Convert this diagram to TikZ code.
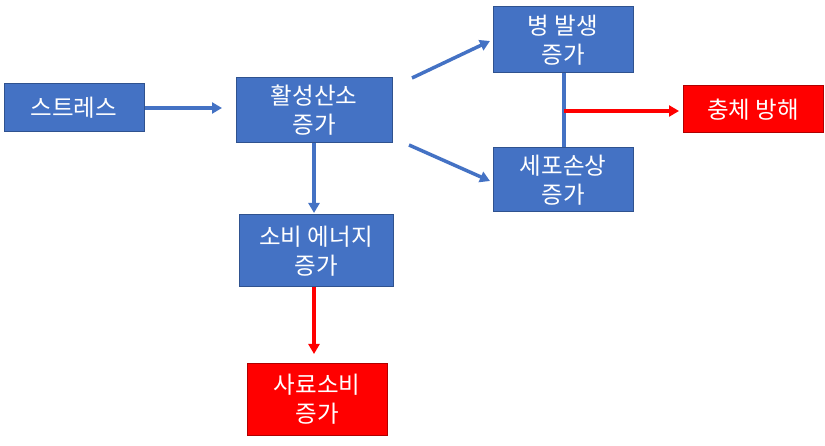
\documentclass[tikz,border=0pt]{standalone}
\usepackage{fontspec}
\newfontfamily\kr{Noto Sans CJK KR}
\usetikzlibrary{arrows.meta}
\definecolor{bfill}{HTML}{4472C4}
\definecolor{bdraw}{HTML}{2F528F}
\definecolor{rfill}{HTML}{FF0000}
\definecolor{rdraw}{HTML}{B00000}
\tikzset{
  bbox/.style={draw=bdraw, fill=bfill, line width=1pt, text=white, font=\kr\fontsize{23.5}{29}\selectfont, align=center, inner sep=0pt},
  rbox/.style={draw=rdraw, fill=rfill, line width=1pt, text=white, font=\kr\fontsize{23.5}{29}\selectfont, align=center, inner sep=0pt},
  barrow/.style={draw=bfill, line width=3.5pt, -{Triangle[length=10pt,width=11pt]}},
  rarrow/.style={draw=rfill, line width=3.2pt, -{Triangle[length=10pt,width=11pt]}},
  bline/.style={draw=bfill, line width=3.5pt}
}
\begin{document}
\begin{tikzpicture}[x=1pt,y=-1pt]
\useasboundingbox (0,0) rectangle (825,446);
\node[bbox, minimum width=140pt, minimum height=48pt] (stress) at (74,108) {스트레스};
\node[bbox, minimum width=156pt, minimum height=65pt] (ros) at (314,110.5) {활성산소\\증가};
\node[bbox, minimum width=140pt, minimum height=66pt] (dis) at (563,40) {병 발생\\증가};
\node[bbox, minimum width=140pt, minimum height=64pt] (cell) at (563,180) {세포손상\\증가};
\node[rbox, minimum width=140pt, minimum height=47pt] (gro) at (753,109.5) {충체 방해};
\node[bbox, minimum width=154pt, minimum height=72pt] (en) at (316,251) {소비 에너지\\증가};
\node[rbox, minimum width=140pt, minimum height=71pt] (feed) at (317,399.5) {사료소비\\증가};
\coordinate (s1) at (412,78);
\coordinate (e1) at (490,41);
\coordinate (s2) at (409,145);
\coordinate (e2) at (490,181);
\coordinate (mid) at (564,111);
\coordinate (e3) at (679,111);
\draw[barrow] (stress.east) -- (222,108);
\draw[barrow] (s1) -- (e1);
\draw[barrow] (s2) -- (e2);
\draw[bline] (dis.south -| mid) -- (cell.north -| mid);
\draw[rarrow] (mid) -- (e3);
\draw[barrow] (ros.south -| 314,0) -- (314,213);
\draw[rarrow] (en.south -| 314,0) -- (314,354);
\end{tikzpicture}
\end{document}
